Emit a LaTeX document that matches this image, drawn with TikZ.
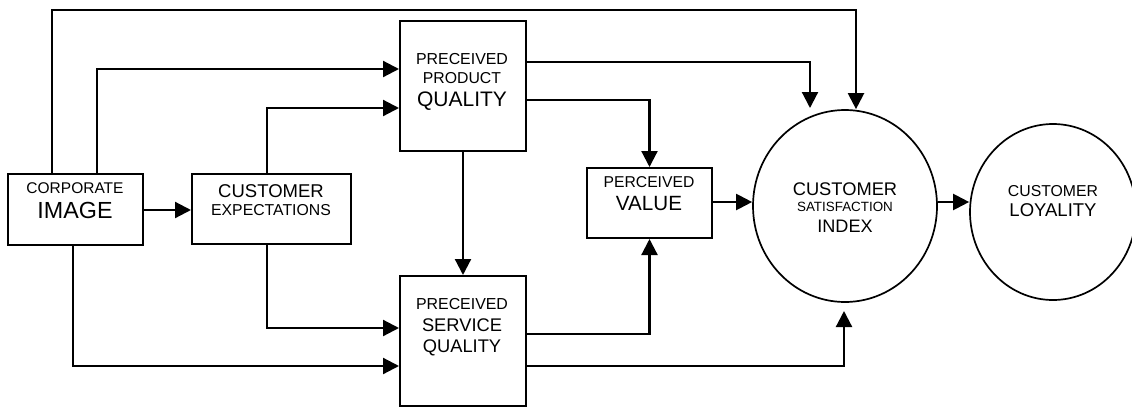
\documentclass[tikz,border=0pt]{standalone}
\usepackage{fontspec}
\setmainfont{Liberation Sans}
\usetikzlibrary{arrows.meta,shapes.geometric}
\newcommand{\fs}[1]{\fontsize{#1}{#1}\selectfont}
\tikzset{
  box/.style={draw, line width=2pt, rectangle, inner sep=0pt},
  oval/.style={draw, line width=1.7pt, ellipse, inner sep=0pt},
  arr/.style={line width=2.2pt, -{Triangle[length=16pt,width=16pt]}},
  lbl/.style={anchor=base, inner sep=0pt},
}
\begin{document}
\begin{tikzpicture}[x=1pt, y=-1pt]
  \useasboundingbox (0,0) rectangle (1132,407);
  \clip (0,0) rectangle (1132,407);
  % boxes and ovals
  \node[box, minimum width=135pt, minimum height=71pt] (ci) at (75.5,209.5) {};
  \node[box, minimum width=159pt, minimum height=70pt] (ce) at (271.5,209) {};
  \node[box, minimum width=126pt, minimum height=130pt] (pq) at (463,86) {};
  \node[box, minimum width=126pt, minimum height=130pt] (sq) at (463,341) {};
  \node[box, minimum width=125pt, minimum height=70pt] (pv) at (649.5,203) {};
  \node[oval, minimum width=184pt, minimum height=192pt] (csi) at (845,206) {};
  \node[oval, minimum width=166pt, minimum height=176pt] (loy) at (1053,212) {};
  % labels
  \node[lbl] (ci1) at (75,193) {\fs{15.5}CORPORATE};
  \node[lbl] (ci2) at (75,218) {\fs{23.3}IMAGE};
  \node[lbl] (ce1) at (271,197) {\fs{18.5}CUSTOMER};
  \node[lbl] (ce2) at (271,215) {\fs{15.8}EXPECTATIONS};
  \node[lbl] (pq1) at (462,64) {\fs{15.9}PRECEIVED};
  \node[lbl] (pq2) at (462,83) {\fs{15.8}PRODUCT};
  \node[lbl] (pq3) at (462,106) {\fs{21}QUALITY};
  \node[lbl] (sq1) at (462,309) {\fs{15.9}PRECEIVED};
  \node[lbl] (sq2) at (462,331) {\fs{18.3}SERVICE};
  \node[lbl] (sq3) at (462,352) {\fs{18.3}QUALITY};
  \node[lbl] (pv1) at (649,187) {\fs{15.7}PERCEIVED};
  \node[lbl] (pv2) at (649,210) {\fs{20.6}VALUE};
  \node[lbl] (csi1) at (845,195) {\fs{18.3}CUSTOMER};
  \node[lbl] (csi2) at (845,211) {\fs{13.4}SATISFACTION};
  \node[lbl] (csi3) at (845,232) {\fs{18.1}INDEX};
  \node[lbl] (loy1) at (1053,196) {\fs{15.8}CUSTOMER};
  \node[lbl] (loy2) at (1053,216) {\fs{18.5}LOYALITY};
  % free arrow ends
  \coordinate (pqtip) at (810,108);
  \coordinate (sqtip) at (844,311);
  % connectors
  \draw[arr] (52,0 |- ci.north) -- (52,10) -| (856,0 |- csi.north);
  \draw[arr] (97,0 |- ci.north) |- (pq.west |- 0,69);
  \draw[arr] (267,0 |- ce.north) |- (pq.west |- 0,108);
  \draw[arr] (267,0 |- ce.south) |- (sq.west |- 0,328);
  \draw[arr] (73,0 |- ci.south) |- (sq.west |- 0,366);
  \draw[arr] (ci.east |- 0,210) -- (ce.west |- 0,210);
  \draw[arr] (pq.south) -- (sq.north);
  \draw[arr] (pq.east |- 0,62) -| (pqtip);
  \draw[arr] (pq.east |- 0,100) -| (pv.north);
  \draw[arr] (sq.east |- 0,334) -| (pv.south);
  \draw[arr] (pv.east |- 0,202) -- (csi.west |- 0,202);
  \draw[arr] (sq.east |- 0,366) -| (sqtip);
  \draw[arr] (csi.east |- 0,202) -- (loy.west |- 0,202);
\end{tikzpicture}
\end{document}
